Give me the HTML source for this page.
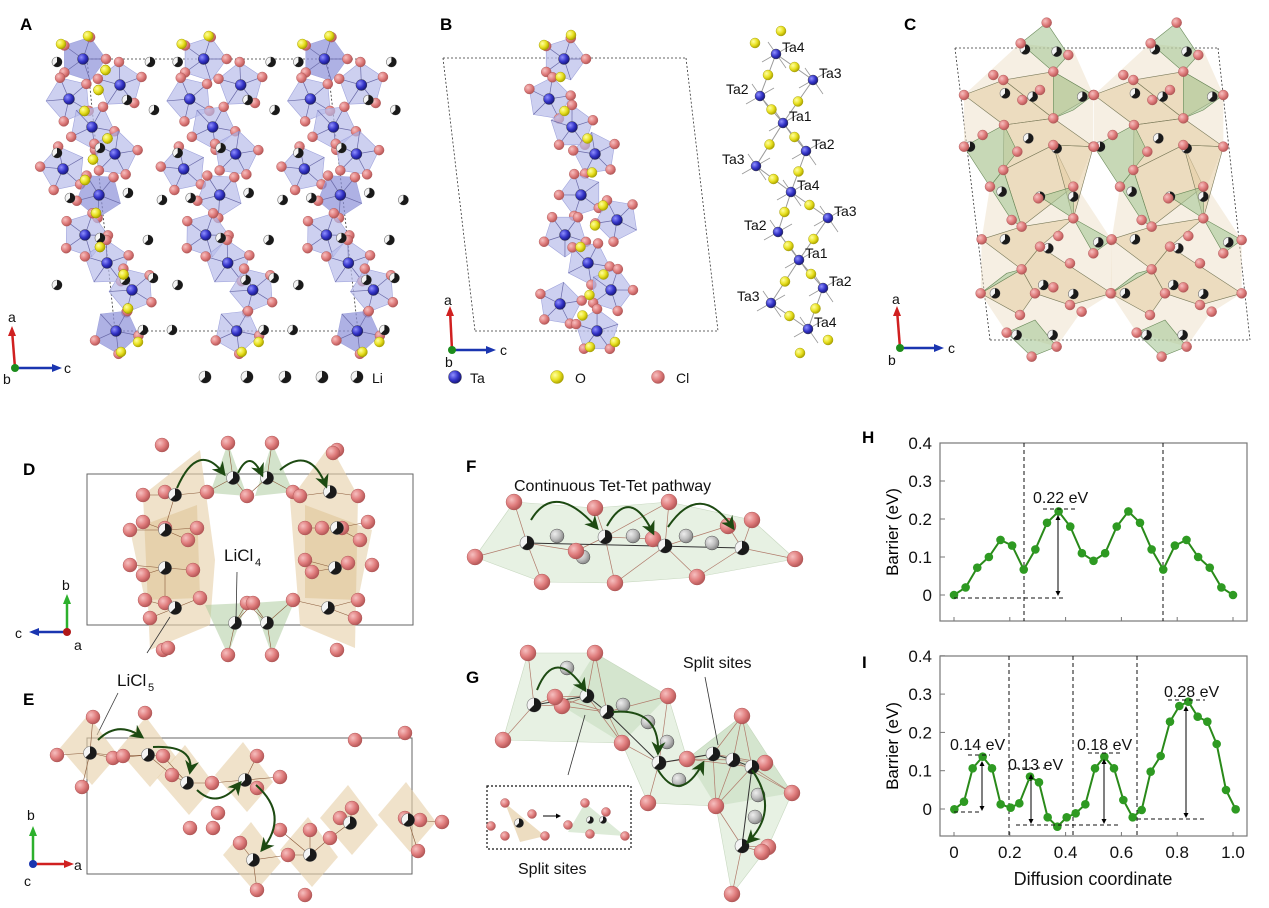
<!DOCTYPE html>
<html><head><meta charset="utf-8"><style>
html,body{margin:0;padding:0;background:#fff;}
svg{display:block;font-family:"Liberation Sans",Arial,sans-serif;}
</style></head><body>
<svg id="s" width="1269" height="908" viewBox="0 0 1269 908" xmlns="http://www.w3.org/2000/svg">
<defs>
<radialGradient id="gR" cx="35%" cy="35%" r="65%"><stop offset="0" stop-color="#f6c0c0"/><stop offset="0.6" stop-color="#e07d7d"/><stop offset="1" stop-color="#b85a5a"/></radialGradient>
<radialGradient id="gY" cx="35%" cy="35%" r="65%"><stop offset="0" stop-color="#ffffa0"/><stop offset="0.6" stop-color="#e8e020"/><stop offset="1" stop-color="#b0a800"/></radialGradient>
<radialGradient id="gB" cx="35%" cy="35%" r="65%"><stop offset="0" stop-color="#9090ff"/><stop offset="0.6" stop-color="#3434c8"/><stop offset="1" stop-color="#1a1a80"/></radialGradient>
<radialGradient id="gG" cx="35%" cy="35%" r="65%"><stop offset="0" stop-color="#eeeeee"/><stop offset="0.6" stop-color="#bdbdbd"/><stop offset="1" stop-color="#8a8a8a"/></radialGradient>
<marker id="ah" viewBox="0 0 10 10" refX="8" refY="5" markerWidth="7" markerHeight="7" orient="auto"><path d="M0,0 L10,5 L0,10 L3,5 z" fill="#1d4a12"/></marker>
<marker id="bk" viewBox="0 0 10 10" refX="8" refY="5" markerWidth="5" markerHeight="5" orient="auto"><path d="M0,0 L10,5 L0,10 z" fill="#000"/></marker>
</defs>
<g id="L"></g>
<g id="T" font-size="15">
<text x="20" y="30" font-weight="bold" font-size="17">A</text>
<text x="440" y="30" font-weight="bold" font-size="17">B</text>
<text x="904" y="30" font-weight="bold" font-size="17">C</text>
<text x="23" y="475" font-weight="bold" font-size="17">D</text>
<text x="23" y="705" font-weight="bold" font-size="17">E</text>
<text x="466" y="472" font-weight="bold" font-size="17">F</text>
<text x="466" y="683" font-weight="bold" font-size="17">G</text>
<text x="862" y="443" font-weight="bold" font-size="17">H</text>
<text x="862" y="668" font-weight="bold" font-size="17">I</text>
</g>
</svg>
<script>
var NS="http://www.w3.org/2000/svg",L=document.getElementById('L');
function el(t,a,p){var e=document.createElementNS(NS,t);for(var k in a)e.setAttribute(k,a[k]);(p||L).appendChild(e);return e;}
function ball(x,y,r,c){el('circle',{cx:x,cy:y,r:r,fill:'url(#g'+c+')',stroke:c=='R'?'#a65050':(c=='Y'?'#9a9400':'#333'),'stroke-width':0.4});}
function li(x,y,r){el('circle',{cx:x,cy:y,r:r,fill:'#f4f4f4',stroke:'#777','stroke-width':0.6});
 el('path',{d:'M'+x+','+(y-r)+' A'+r+','+r+' 0 1,1 '+(x-r*0.7)+','+(y+r*0.7)+' L'+x+','+y+' Z',fill:'#1a1a1a'});}
function line(x1,y1,x2,y2,c,w,d){var a={x1:x1,y1:y1,x2:x2,y2:y2,stroke:c,'stroke-width':w||1};if(d)a['stroke-dasharray']=d;return el('line',a);}
function poly(pts,f,o,s){return el('polygon',{points:pts.map(function(p){return p.join(',')}).join(' '),fill:f,'fill-opacity':o,stroke:s||'none','stroke-width':0.6});}
function txt(x,y,s,sz,anc){var t=el('text',{x:x,y:y,'font-size':sz||15,'text-anchor':anc||'start',fill:'#111'});t.textContent=s;return t;}
function arc(x1,y1,cx,cy,x2,y2){el('path',{d:'M'+x1+','+y1+' Q'+cx+','+cy+' '+x2+','+y2,fill:'none',stroke:'#1d4a12','stroke-width':2,'marker-end':'url(#ah)'});}
function axes(ox,oy,up,side,lu,ls,lo,uc,sc,oc){
 line(ox,oy,up[0],up[1],uc,2.5);el('path',{d:'M'+(up[0]-4)+','+(up[1]+6)+' L'+up[0]+','+(up[1]-4)+' L'+(up[0]+4)+','+(up[1]+6)+'Z',fill:uc});
 line(ox,oy,side[0],side[1],sc,2.5);var dx=side[0]>ox?1:-1;
 el('path',{d:'M'+(side[0]-6*dx)+','+(oy-4)+' L'+(side[0]+4*dx)+','+oy+' L'+(side[0]-6*dx)+','+(oy+4)+'Z',fill:sc});
 el('circle',{cx:ox,cy:oy,r:4,fill:oc});
 txt(lu[1],lu[2],lu[0],14);txt(ls[1],ls[2],ls[0],14);txt(lo[1],lo[2],lo[0],14);}

/* ---------- Panel A ---------- */
var taA=[[83,59],[120,85],[69,99],[92,127],[115,154],[63,169],[99,195],[85,235],[107,263],[132,290],[116,331]];
var dark={0:1,6:1,10:1};
var liA=[[57,62],[150,62],[127,100],[154,110],[57,153],[100,148],[70,198],[128,193],[162,200],[100,238],[148,240],[57,285],[125,280],[153,278],[143,330],[172,330]];
line(87,59,360,59,'#333',0.8,'2,2');line(115,331,358,331,'#333',0.8,'2,2');
line(87,59,115,331,'#333',0.8,'2,2');line(327,59,358,331,'#333',0.8,'2,2');
for(var c=0;c<3;c++){var dx=c*120.7;
 taA.forEach(function(p,i){var x=p[0]+dx,y=p[1],n=5,R=23,pts=[];
  for(var k=0;k<n;k++){var a=(i*0.9)+k*2*Math.PI/n;pts.push([x+R*Math.cos(a),y+R*Math.sin(a)]);}
  if(x>400)return;
  poly(pts,dark[i]&&c!=1?'#8c90d8':'#b8bcea',0.7,'#a0a4dc');
  pts.forEach(function(q){line(x,y,q[0],q[1],'#6a6aa8',0.7);});
  pts.forEach(function(q,k){if(k%2==0||k==3)ball(q[0],q[1],5,'R');});
 });}
for(var c=0;c<3;c++){var dx=c*120.7;
 for(var i=0;i<taA.length-1;i++){var a=taA[i],b=taA[i+1];ball((a[0]+b[0])/2+4,(a[1]+b[1])/2-2,5,'Y');}
 ball(taA[0][0]+dx+5,36,5,'Y');ball(taA[0][0]+dx-22,44,5,'Y');ball(taA[10][0]+dx+5,352,5,'Y');ball(taA[10][0]+dx+22,342,5,'Y');
 taA.forEach(function(p){ball(p[0]+dx,p[1],5.5,'B');});
 liA.forEach(function(p){if(p[0]+dx<405)li(p[0]+dx,p[1],5);});}
[205,247,285,322,357].forEach(function(x){li(x,377,6);});txt(372,383,'Li',14);
axes(15,368,[12,330],[58,368],['a',8,322],['c',64,373],['b',3,384],'#d02020','#1a35b0','#1c8c1c');

/* ---------- Panel B ---------- */
line(443,58,686,58,'#333',0.8,'2,2');line(475,331,718,331,'#333',0.8,'2,2');
line(443,58,475,331,'#333',0.8,'2,2');line(686,58,718,331,'#333',0.8,'2,2');
var taB=[[564,59],[549,99],[572,127],[595,154],[581,195],[617,220],[565,235],[588,263],[611,290],[560,304],[597,331]];
taB.forEach(function(p,i){var x=p[0],y=p[1],pts=[];for(var k=0;k<5;k++){var a=i*1.1+k*2*Math.PI/5;pts.push([x+22*Math.cos(a),y+22*Math.sin(a)]);}
 poly(pts,'#b8bcea',0.7,'#a0a4dc');pts.forEach(function(q){line(x,y,q[0],q[1],'#6a6aa8',0.7);});
 pts.forEach(function(q,k){if(k%2==0||k==3)ball(q[0],q[1],5,'R');});});
for(var i=0;i<taB.length-1;i++){var a=taB[i],b=taB[i+1];ball((a[0]+b[0])/2+4,(a[1]+b[1])/2-2,5,'Y');}
ball(571,35,5,'Y');ball(544,45,5,'Y');ball(590,347,5,'Y');ball(615,342,5,'Y');
taB.forEach(function(p){ball(p[0],p[1],5.5,'B');});
ball(455,377,6.5,'B');txt(470,383,'Ta',14);ball(557,377,6.5,'Y');txt(575,383,'O',14);ball(658,377,6.5,'R');txt(676,383,'Cl',14);
axes(452,350,[450,310],[492,350],['a',444,305],['c',500,355],['b',445,367],'#d02020','#1a35b0','#1c8c1c');
var ch=[[776,54,'Ta4',1],[813,80,'Ta3',1],[760,96,'Ta2',-1],[783,123,'Ta1',1],[806,151,'Ta2',1],[756,166,'Ta3',-1],[791,192,'Ta4',1],[828,218,'Ta3',1],[778,232,'Ta2',-1],[799,260,'Ta1',1],[823,288,'Ta2',1],[771,303,'Ta3',-1],[808,329,'Ta4',1]];
var order=[0,2,3,5,6,8,9,11,12],order2=[0,1,3,4,6,7,9,10,12];
function chainLink(o){for(var i=0;i<o.length-1;i++){var a=ch[o[i]],b=ch[o[i+1]];line(a[0],a[1],b[0],b[1],'#999',1);}}
chainLink(order);chainLink(order2);
ch.forEach(function(p){line(p[0]-14,p[1]+8,p[0]+14,p[1]-8,'#999',0.8);line(p[0]-8,p[1]-12,p[0]+10,p[1]+14,'#999',0.8);});
[order,order2].forEach(function(o){for(var i=0;i<o.length-1;i++){var a=ch[o[i]],b=ch[o[i+1]];ball((a[0]+b[0])/2,(a[1]+b[1])/2,5,'Y');}});
ball(781,31,5,'Y');ball(755,43,5,'Y');ball(800,353,5,'Y');ball(828,340,5,'Y');
ch.forEach(function(p){ball(p[0],p[1],5,'B');if(p[3]>0)txt(p[0]+6,p[1]-2,p[2],14);else txt(p[0]-34,p[1]-2,p[2],14);});

/* ---------- Panel C ---------- */
line(955,48,1218,48,'#333',0.8,'2,2');line(990,340,1250,340,'#333',0.8,'2,2');
line(955,48,990,340,'#333',0.8,'2,2');line(1218,48,1250,340,'#333',0.8,'2,2');
function Z(p){return [860+p[0]/3,p[1]/3];}
var beige=[[[312,285],[432,240],[580,355],[432,375]],[[432,240],[580,215],[700,285],[580,355]],[[432,375],[580,355],[700,440],[580,435],[430,510]],[[430,510],[580,435],[640,560],[485,680]],[[365,718],[485,680],[640,655],[540,740],[485,808]],[[485,808],[540,740],[755,880],[630,915],[525,880]],[[580,435],[700,440],[640,655]],[[362,880],[485,808],[525,880],[480,945]]];
var green=[[[482,130],[560,68],[625,165],[580,215]],[[580,215],[700,285],[640,330],[580,355]],[[312,440],[432,375],[472,455],[390,560]],[[390,560],[430,510],[485,680],[455,660]],[[540,590],[640,560],[640,655]],[[640,655],[755,720],[700,760]],[[362,880],[440,820],[485,808]],[[440,998],[525,960],[590,1040],[515,1070]]];
var redC=[[560,68],[482,130],[580,215],[625,165],[430,240],[400,225],[312,285],[540,270],[487,300],[580,355],[432,375],[368,405],[312,440],[580,435],[472,455],[430,510],[390,560],[640,560],[535,595],[455,660],[640,655],[365,718],[485,680],[595,708],[540,740],[700,760],[485,808],[630,790],[362,880],[525,880],[580,862],[630,915],[665,935],[480,945],[440,998],[590,1040],[515,1070],[755,720],[700,440],[755,880],[700,285]];
var liC=[[590,155],[495,148],[435,280],[518,290],[667,290],[505,415],[590,445],[330,440],[425,575],[540,590],[640,590],[435,718],[565,745],[715,727],[550,855],[640,882],[405,880],[470,1005],[578,1005]];
for(var c=0;c<2;c++){var o=c*390;
 poly([[480,130],[640,150],[700,285],[700,440],[650,560],[755,720],[755,880],[660,940],[590,1040],[440,998],[362,880],[365,718],[390,560],[312,440],[312,285]].map(function(p){return Z([p[0]+o,p[1]]);}),'#eadcc0',0.45);
 beige.forEach(function(P){poly(P.map(function(p){return Z([p[0]+o,p[1]]);}),'#e6cfa6',0.6,'#7a7a5a');});
 green.forEach(function(P){poly(P.map(function(p){return Z([p[0]+o,p[1]]);}),'#a8c898',0.6,'#6a8a5a');});
 liC.forEach(function(p){var q=Z([p[0]+o,p[1]]);li(q[0],q[1],5);});
 redC.forEach(function(p){var q=Z([p[0]+o,p[1]]);ball(q[0],q[1],5,'R');});}
axes(900,348,[897,310],[940,348],['a',892,304],['c',948,353],['b',888,365],'#d02020','#1a35b0','#1c8c1c');

/* ---------- Panel D ---------- */
el('rect',{x:87,y:474,width:326,height:151,fill:'none',stroke:'#666','stroke-width':1});
poly([[143,495],[200,450],[215,560],[210,625],[150,650]],'#e6cfa6',0.6);poly([[130,530],[197,505],[200,598],[145,600]],'#d8b880',0.4);
poly([[358,496],[330,445],[290,500],[300,625],[355,648]],'#e6cfa6',0.6);poly([[372,530],[305,505],[305,598],[358,600]],'#d8b880',0.4);
poly([[228,443],[210,493],[247,496]],'#a8c898',0.5);poly([[272,443],[255,496],[293,492]],'#a8c898',0.5);
poly([[228,655],[205,605],[247,603]],'#a8c898',0.5);poly([[272,655],[253,603],[295,600]],'#a8c898',0.5);
var redD=[[162,445],[228,443],[272,443],[337,450],[333,453],[143,495],[165,492],[207,492],[247,496],[293,492],[300,496],[358,496],[143,522],[130,530],[165,528],[197,528],[188,540],[305,528],[322,528],[342,528],[368,522],[360,540],[130,565],[143,575],[193,570],[305,560],[312,572],[348,563],[372,565],[145,600],[165,603],[200,598],[247,603],[253,603],[293,600],[358,600],[150,618],[355,618],[163,650],[168,648],[228,655],[272,655],[337,650]];
var liD=[[175,495],[233,478],[267,478],[330,492],[165,530],[337,528],[165,568],[335,568],[175,608],[235,623],[267,623],[328,608]];
liD.forEach(function(p){redD.forEach(function(q){var d=Math.hypot(p[0]-q[0],p[1]-q[1]);if(d<36)line(p[0],p[1],q[0],q[1],'#8a5a3a',0.6);});});
redD.forEach(function(p){ball(p[0],p[1],7,'R');});liD.forEach(function(p){li(p[0],p[1],6.5);});
arc(177,488,198,440,224,474);arc(238,473,250,448,262,475);arc(280,470,310,445,326,486);
txt(224,561,'LiCl',17);txt(255,566,'4',11);line(237,572,236,620,'#333',0.8);
txt(117,686,'LiCl',17);txt(148,691,'5',11);line(147,653,170,617,'#333',0.8);line(118,693,97,735,'#333',0.8);
axes(67,632,[67,598],[33,632],['b',62,590],['c',15,638],['a',74,650],'#2cb02c','#1a35b0','#b01818');

/* ---------- Panel E ---------- */
el('rect',{x:87,y:738,width:325,height:136,fill:'none',stroke:'#666','stroke-width':1});
var liE=[[90,753],[148,755],[187,783],[245,780],[253,860],[310,855],[350,823],[408,820]];
liE.forEach(function(p,i){poly([[p[0]-30,p[1]-5],[p[0]-2,p[1]-38],[p[0]+28,p[1]+2],[p[0]+2,p[1]+32]],'#e6cfa6',0.6);});
var redE=[[57,755],[93,717],[145,713],[113,758],[123,756],[82,787],[163,756],[172,775],[212,783],[257,756],[213,828],[190,828],[257,788],[280,777],[218,813],[240,843],[280,830],[330,838],[352,808],[405,818],[355,740],[405,733],[420,820],[288,855],[257,890],[305,895],[340,818],[310,830],[442,822],[418,851]];
liE.forEach(function(p){redE.forEach(function(q){var d=Math.hypot(p[0]-q[0],p[1]-q[1]);if(d<40)line(p[0],p[1],q[0],q[1],'#8a5a3a',0.6);});});
redE.forEach(function(p){ball(p[0],p[1],7,'R');});liE.forEach(function(p){li(p[0],p[1],6.5);});
arc(98,740,118,720,142,737);arc(153,747,195,745,190,772);arc(197,790,218,810,240,783);arc(256,785,290,815,262,850);
axes(33,864,[33,830],[70,864],['b',27,820],['a',74,870],['c',24,886],'#2cb02c','#d02020','#1a35b0');

/* ---------- Panel F ---------- */
txt(514,491,'Continuous Tet-Tet pathway',16);
var redF=[[514,502],[475,557],[542,582],[595,508],[615,583],[669,502],[697,577],[752,520],[795,559],[576,551],[653,539],[728,526]];
var greyF=[[557,536],[583,557],[633,536],[686,536],[712,543]],liF=[[527,543],[605,537],[665,546],[742,548]];
poly([[514,502],[595,508],[669,502],[752,520],[795,559],[697,577],[615,583],[542,582],[475,557]],'#cfe3c8',0.5,'#c8d8c0');
liF.forEach(function(p){redF.forEach(function(q){var d=Math.hypot(p[0]-q[0],p[1]-q[1]);if(d<75)line(p[0],p[1],q[0],q[1],'#b07a6a',0.7);});});
line(527,543,742,548,'#333',1);
greyF.forEach(function(p){ball(p[0],p[1],7,'G');});redF.forEach(function(p){ball(p[0],p[1],8,'R');});liF.forEach(function(p){li(p[0],p[1],7);});
arc(531,520,555,480,597,528);arc(607,526,630,485,653,533);arc(668,527,700,480,733,528);

/* ---------- Panel G ---------- */
poly([[528,653],[595,653],[668,696],[687,759],[742,716],[792,793],[768,847],[732,894],[716,806],[648,803],[622,743],[503,740]],'#cfe3c8',0.5,'#c8d8c0');
poly([[595,653],[668,696],[622,743],[562,706]],'#b8d4b0',0.4);poly([[742,716],[792,793],[716,806],[687,759]],'#b8d4b0',0.4);
var redG=[[528,653],[595,653],[503,740],[668,696],[622,743],[742,716],[648,803],[716,806],[792,793],[765,763],[687,759],[732,894],[768,847],[562,706],[555,697],[762,852]];
var greyG=[[567,668],[623,705],[648,722],[667,742],[679,780],[758,795],[755,817]],liG=[[534,705],[587,696],[607,712],[659,763],[713,754],[733,760],[752,767],[742,846]];
liG.forEach(function(p){redG.forEach(function(q){var d=Math.hypot(p[0]-q[0],p[1]-q[1]);if(d<70)line(p[0],p[1],q[0],q[1],'#b07a6a',0.7);});});
for(var i=0;i<liG.length-1;i++)line(liG[i][0],liG[i][1],liG[i+1][0],liG[i+1][1],'#333',1);
greyG.forEach(function(p){ball(p[0],p[1],7,'G');});redG.forEach(function(p){ball(p[0],p[1],8,'R');});liG.forEach(function(p){li(p[0],p[1],7);});
arc(537,690,555,645,585,690);arc(613,712,660,708,658,753);arc(658,770,680,805,703,763);arc(752,770,780,810,748,842);
txt(683,668,'Split sites',16);line(705,677,718,745,'#333',0.8);line(585,715,568,775,'#333',0.8);
el('rect',{x:487,y:786,width:144,height:63,fill:'none',stroke:'#111','stroke-width':1.2,'stroke-dasharray':'2,2'});
poly([[505,803],[520,842],[545,836]],'#e6cfa6',0.7);poly([[585,803],[568,832],[625,836]],'#cfe3c8',0.7);
[[505,803],[491,826],[505,836],[532,814],[545,836],[585,803],[568,825],[590,834],[606,812],[625,836]].forEach(function(p){ball(p[0],p[1],4.5,'R');});
li(519,823,4.5);li(590,820,3.5);li(603,820,3.5);
el('line',{x1:543,y1:816,x2:560,y2:816,stroke:'#000','stroke-width':1,'marker-end':'url(#bk)'});
txt(518,874,'Split sites',16);

/* ---------- Charts H & I ---------- */
function chart(top,bot,y0,unit,pts,vl){
 var l=940,r=1247;
 el('rect',{x:l,y:top,width:r-l,height:bot-top,fill:'none',stroke:'#777','stroke-width':1.2});
 [0,0.1,0.2,0.3,0.4].forEach(function(v){var y=y0-v*unit;line(l,y,l+5,y,'#777',1);txt(l-8,y+6,v==0?'0':v.toFixed(1),17,'end');});
 [0,0.2,0.4,0.6,0.8,1.0].forEach(function(v){var x=954+v*279;line(x,bot,x,bot-4,'#777',1);});
 vl.forEach(function(x){line(x,top,x,bot,'#111',1,'4,3');});
 var t=el('text',{x:0,y:0,'font-size':17,'text-anchor':'middle',transform:'translate('+(l-42)+','+((top+bot)/2)+') rotate(-90)'});t.textContent='Barrier (eV)';
 el('polyline',{points:pts.map(function(p){return p.join(',')}).join(' '),fill:'none',stroke:'#2a8a1a','stroke-width':2});
 pts.forEach(function(p){el('circle',{cx:p[0],cy:p[1],r:4.3,fill:'#2e9a22'});});
}
var hv=[0,.02,.072,.10,.145,.13,.067,.12,.19,.22,.18,.11,.09,.11,.18,.22,.19,.12,.067,.13,.145,.10,.072,.02,0];
chart(443,621,595,380,hv.map(function(v,i){return [954+i*279/24,595-v*380];}),[1024,1163]);
line(954,598,1063,598,'#111',0.9,'4,3');line(1043,509,1077,509,'#111',0.9,'4,3');
el('line',{x1:1058,y1:592,x2:1058,y2:516,stroke:'#000','stroke-width':1,'marker-end':'url(#bk)'});
el('line',{x1:1058,y1:516,x2:1058,y2:595,stroke:'#000','stroke-width':1,'marker-end':'url(#bk)'});
txt(1033,503,'0.22 eV',16);
var iz=[[283,1168],[312,1145],[338,1045],[368,1010],[396,1045],[422,1153],[452,1163],[478,1150],[510,1070],[537,1087],[563,1192],[592,1220],[620,1192],[647,1180],[676,1153],[705,1045],[733,1010],[762,1045],[790,1140],[818,1192],[845,1170],[872,1055],[902,1008],[930,905],[958,858],[985,845],[1013,890],[1042,905],[1070,972],[1098,1110],[1127,1168]];
chart(656,836,809,383,iz.map(function(p){return [860+p[0]/3,420+p[1]/3];}),[1009,1073,1137]);
function dl(x1,x2,y){line(x1,y,x2,y,'#111',0.9,'4,3');}
function dbl(x,y1,y2){el('line',{x1:x,y1:y2,x2:x,y2:y1+5,stroke:'#000','stroke-width':1,'marker-end':'url(#bk)'});el('line',{x1:x,y1:y1+5,x2:x,y2:y2,stroke:'#000','stroke-width':1,'marker-end':'url(#bk)'});}
dl(954,980,812);dl(968,990,755);dbl(982,757,810);txt(950,750,'0.14 eV',16);
dl(1016,1118,825);dl(1015,1045,768);dbl(1031,770,823);txt(1008,770,'0.13 eV',16);
dl(1088,1122,753);dbl(1104,755,823);txt(1077,750,'0.18 eV',16);
dl(1137,1205,819);dl(1168,1205,700);dbl(1186,702,817);txt(1164,697,'0.28 eV',16);
[0,0.2,0.4,0.6,0.8,1.0].forEach(function(v){txt(954+v*279,858,v==0?'0':v.toFixed(1),17,'middle');});
txt(1093,885,'Diffusion coordinate',18,'middle');
</script>
</body></html>
